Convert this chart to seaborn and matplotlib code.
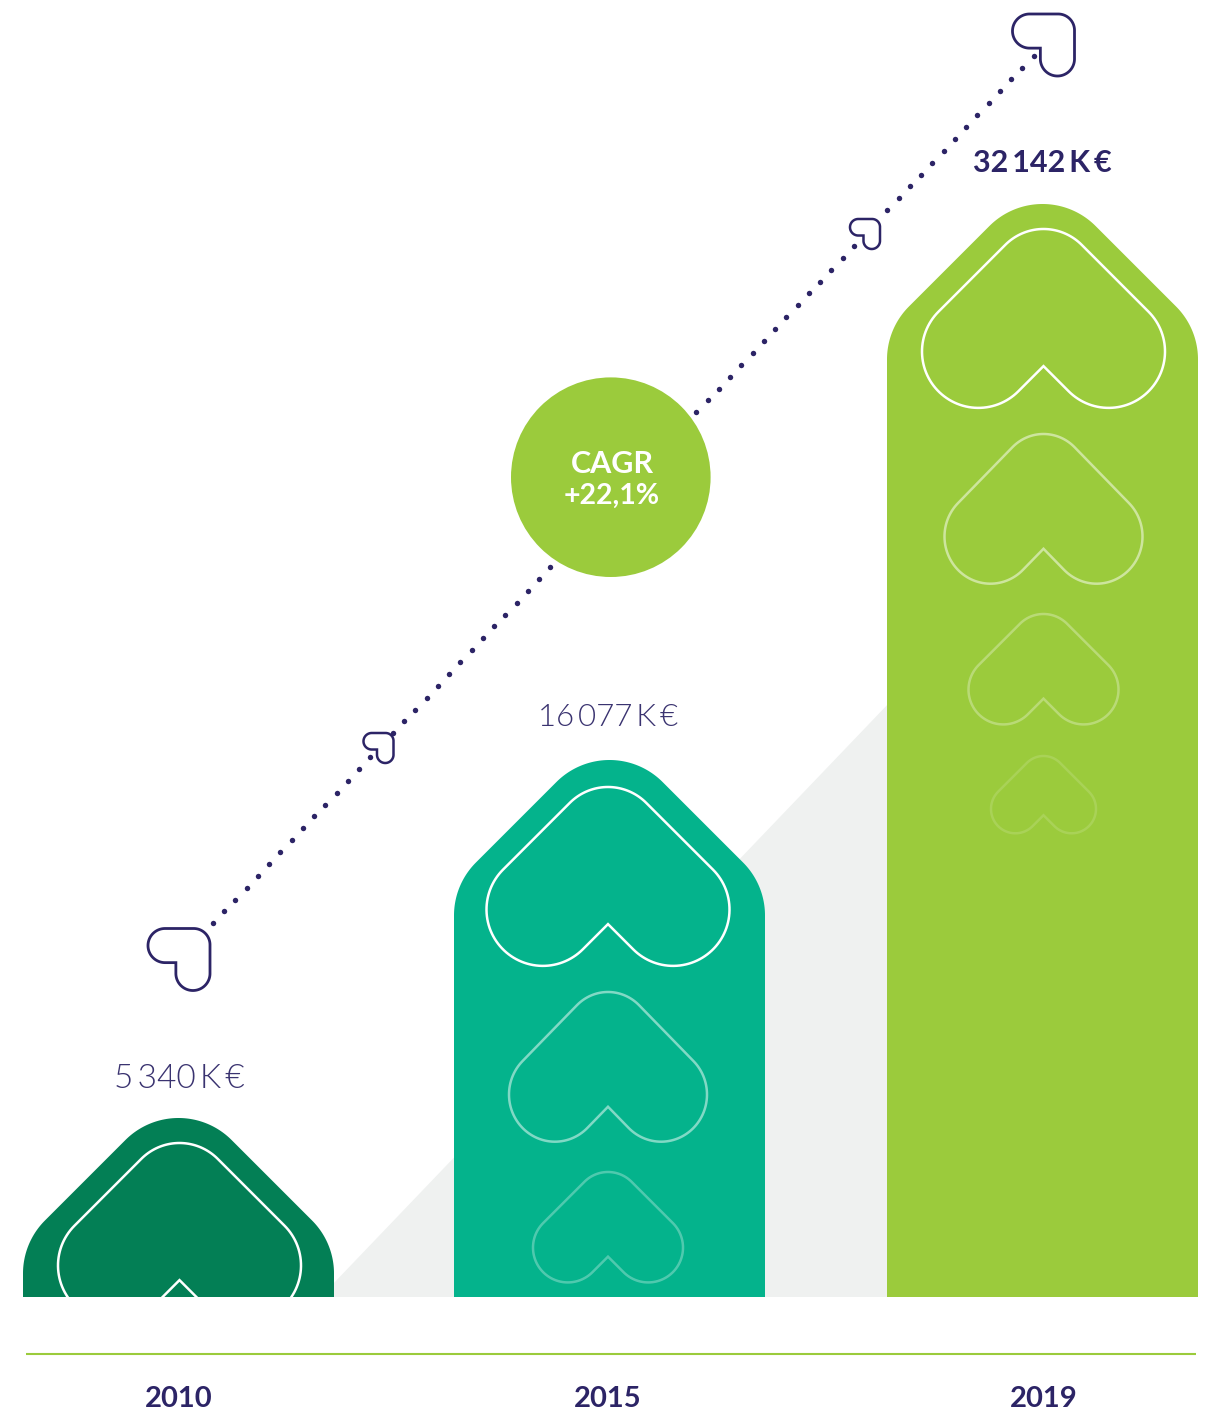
import numpy as np
import pandas as pd
import matplotlib
matplotlib.use("Agg")
import matplotlib.pyplot as plt
from matplotlib.path import Path
from matplotlib.patches import Polygon, Circle
from matplotlib.transforms import Affine2D, ScaledTranslation
import seaborn as sns

# ---- data ----
years = ["2010", "2015", "2019"]
revenue = [5340, 16077, 32142]
value_labels = ["5\u2009340\u2009K\u2009€", "16\u2009077\u2009K\u2009€", "32\u2009142\u2009K\u2009€"]
cagr_lines = ["CAGR", "+22,1%"]

# the infographic's vertical scale is not strictly proportional: anchors (value -> pixels)
scale_values = [-1000, 0, 5340, 16077, 32142, 38142]
scale_pixels = [-33, 0, 179, 537, 1093, 1297]

# ---- styling ----
W, H = 1212, 1413
BASE = 1297
NAVY = "#2c2466"
LIGHT = "#3a3370"
GREEN = "#9bcb3c"
bar_colors = ["#037f55", "#04b38c", GREEN]
heart_alpha = [1.0, 0.5, 0.3, 0.14]
heart_width = [243, 198, 150, 105]
heart_yscale = [1.0, 1.027, 1.0, 1.0]
heart_top_offset = [25, 230, 410, 552]

sns.set_theme(style="white")
plt.rcParams["font.family"] = ["Lato", "DejaVu Sans"]

fig = plt.figure(figsize=(W / 100, H / 100), dpi=100, facecolor="white")
ax = fig.add_axes([0, (H - BASE) / H, 1, BASE / H])

df = pd.DataFrame({"year": years, "revenue": revenue})
sns.barplot(data=df, x="year", y="revenue", hue="year", palette=bar_colors,
            order=years, hue_order=years, width=311 / 432, saturation=1,
            legend=False, linewidth=0, ax=ax)

ax.set_yscale("function", functions=(lambda v: np.interp(v, scale_values, scale_pixels),
                                     lambda p: np.interp(p, scale_pixels, scale_values)))
ax.set_ylim(0, 38142)
ax.set_xlim(-178.5 / 432, (W - 178.5) / 432)
ax.set_xlabel("")
ax.set_ylabel("")
ax.set_yticks([])
ax.minorticks_off()
ax.patch.set_alpha(0)
for s in ["top", "left", "right"]:
    ax.spines[s].set_visible(False)
sp = ax.spines["bottom"]
sp.set_position(("outward", 57 * 0.72))
sp.set_color(GREEN)
sp.set_linewidth(1.5)
sp.set_capstyle("butt")
sp.set_bounds((26 - 178.5) / 432, (1196 - 178.5) / 432)
ax.tick_params(axis="x", length=0, pad=23, labelsize=21, labelcolor=NAVY)
for t, dx in zip(ax.get_xticklabels(), [0.5, -2.5, 1]):
    t.set_fontweight("bold")
    t.set_transform(t.get_transform() + ScaledTranslation(dx / 100, 0, fig.dpi_scale_trans))

# pixel coordinates, y downward, for the decoration
px = Affine2D().scale(1, -1).translate(0, H)


def heart_outline(w, r=0.232, R=0.222):
    """Heart with the peak at (0,0), y downward, of width w."""
    r_, R_ = r * w, R * w
    yc = w / 2 + (r_ - R_) * (np.sqrt(2) - 1)
    a1 = np.radians(np.linspace(-90, -45, 20))
    a2 = np.radians(np.linspace(-45, 135, 60))
    xs = np.r_[R_ * np.cos(a1), w / 2 - r_ + r_ * np.cos(a2)]
    ys = np.r_[R_ + R_ * np.sin(a1), yc + r_ * np.sin(a2)]
    right = np.c_[np.r_[xs, 0], np.r_[ys, ys[-1] - xs[-1]]]
    left = right[-2:0:-1] * [-1, 1]
    return np.vstack([right, left])


def house_path(x0, x1, top, bottom):
    w = x1 - x0
    r_ = 75 * w / 311
    cx = (x0 + x1) / 2
    a1 = np.radians(np.linspace(-90, -45, 30))
    a2 = np.radians(np.linspace(-45, 0, 30))
    xs = np.r_[r_ * np.cos(a1), w / 2 - r_ + r_ * np.cos(a2), w / 2]
    ys = np.r_[r_ + r_ * np.sin(a1), w / 2 + r_ * np.sin(a2), bottom - top]
    right = np.c_[cx + xs, top + ys]
    left = np.c_[cx - xs, top + ys][::-1]
    return Path(np.vstack([right, left, right[:1]]), closed=True)


# shift the middle column so that it sits at its own place
bars = list(ax.patches)
bars[1].set_x(bars[1].get_x() - 1 / 432)

heart_counts = [1, 3, 4]
heart_dx = [1, -1.5, 1]
heart_dy = [0, 2, 0]
ax.figure.canvas.draw()
for bar, n, dx, dy in zip(bars, heart_counts, heart_dx, heart_dy):
    (x0, yb), (x1, yt) = ax.transData.transform(
        [(bar.get_x(), 0), (bar.get_x() + bar.get_width(), bar.get_height())])
    top, bottom = H - yt, H - yb
    clip = house_path(x0, x1, top, bottom)
    bar.set_clip_path(clip, px)
    cx = (x0 + x1) / 2 + dx
    for i in range(n):
        pts = heart_outline(heart_width[i]) * [1, heart_yscale[i]] + [cx, top + heart_top_offset[i] + dy]
        h = Polygon(pts, closed=True, fill=False, ec="white", alpha=heart_alpha[i],
                    lw=1.8, transform=px, zorder=3, joinstyle="miter")
        ax.add_patch(h)
        h.set_clip_path(clip, px)

# grey shadow behind the columns
ax.add_patch(Polygon([(320.5, BASE), (890, 702), (890, BASE)], closed=True, fc="#eff1f0",
                     ec="none", transform=px, zorder=0.5))

# dotted trend
for (xa, ya), (xb, yb), hidden in [((213, 923.3), (550.3, 567), [15]),
                                   ((696.3, 412.3), (1033.7, 55.7), [15, 16])]:
    idx = np.delete(np.arange(31), hidden)
    ax.plot(xa + (xb - xa) * idx / 30, ya + (yb - ya) * idx / 30, ls="none", marker="o",
            ms=3.9, mfc=NAVY, mec="none", transform=px, zorder=6, clip_on=False)


# rotated heart icons
def icon(cx, cy, size, lw):
    p = heart_outline(100)
    a = np.radians(45)
    q = np.c_[p[:, 0] * np.cos(a) - p[:, 1] * np.sin(a), p[:, 0] * np.sin(a) + p[:, 1] * np.cos(a)]
    mid = (q.max(0) + q.min(0)) / 2
    q = (q - mid) * size / (q.max(0) - q.min(0)).max() + [cx, cy]
    ax.add_patch(Polygon(q, closed=True, fill=False, ec=NAVY, lw=lw, transform=px,
                         zorder=5, clip_on=False))


icon(1043.5, 45, 62, 2.0)
icon(865, 234, 30, 1.8)
icon(378.5, 748, 30, 1.8)
icon(179, 959.5, 62, 2.0)

# CAGR disc
ax.add_patch(Circle((610.8, 477.2), 99.8, fc=GREEN, ec="none", transform=px, zorder=7))
ax.text(612, 464, cagr_lines[0], color="white", fontsize=22, fontweight="bold",
        ha="center", va="center", transform=px, zorder=8)
ax.text(612, 496, cagr_lines[1], color="white", fontsize=20.5, fontweight="bold",
        ha="center", va="center", transform=px, zorder=8)

# value labels
ax.text(179, 1079, value_labels[0], color=LIGHT, fontsize=24, fontweight=300,
        ha="center", va="center", transform=px)
ax.text(608.5, 717, value_labels[1], color=LIGHT, fontsize=22.5, fontweight=300,
        ha="center", va="center", transform=px)
ax.text(1042, 163, value_labels[2], color=NAVY, fontsize=22, fontweight="bold",
        ha="center", va="center", transform=px)

fig.savefig("out.png", dpi=100, facecolor="white")
